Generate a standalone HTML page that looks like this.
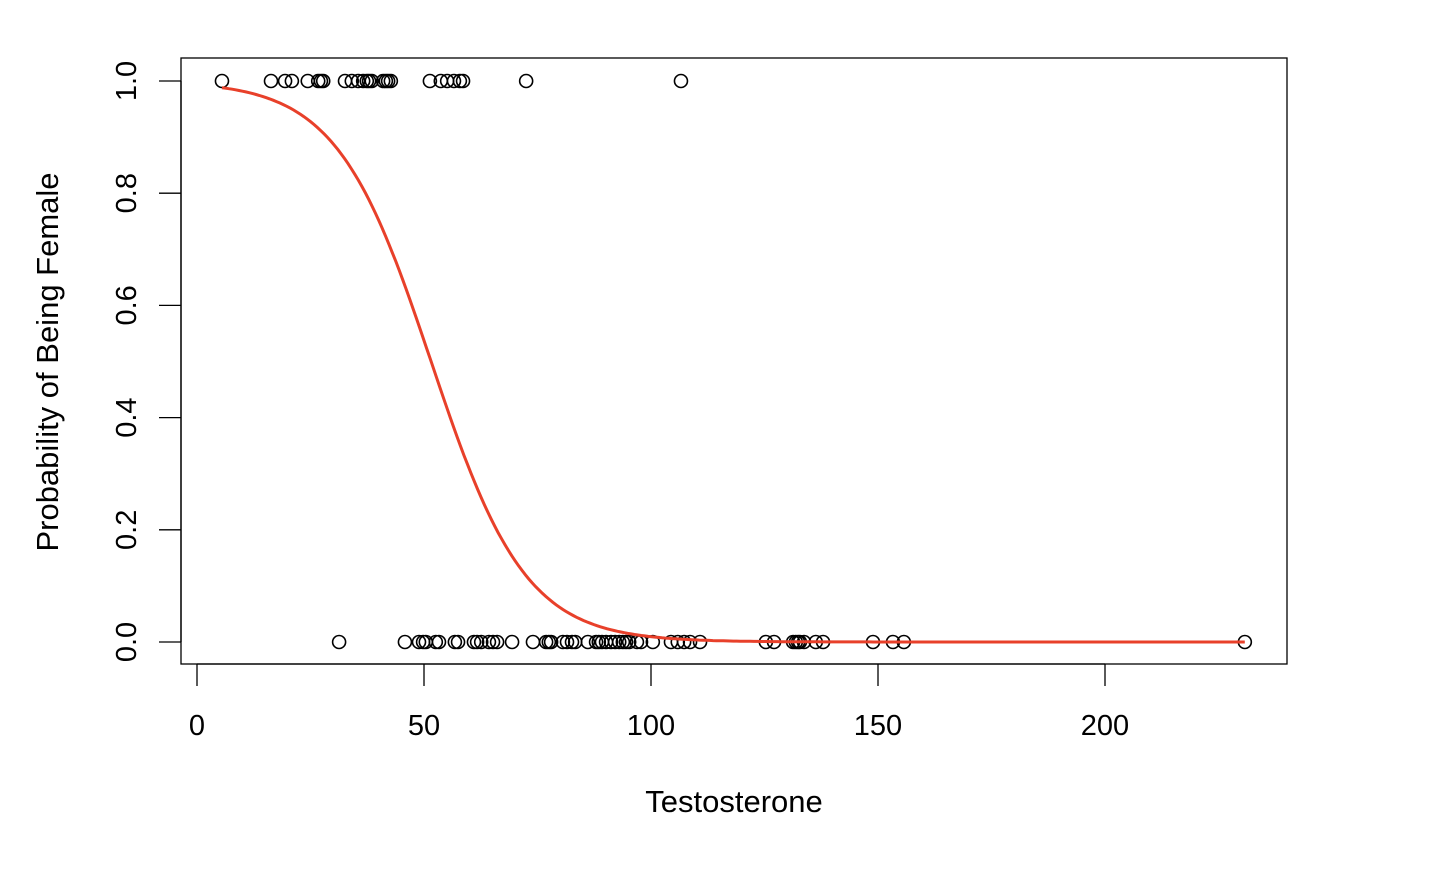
<!DOCTYPE html>
<html><head><meta charset="utf-8"><style>
body{margin:0;background:#fff}
text{font-family:"Liberation Sans",Arial,sans-serif;fill:#000}
</style></head><body>
<svg id="chart" width="1434" height="878" xmlns="http://www.w3.org/2000/svg">
<rect x="181" y="58" width="1106" height="606" fill="none" stroke="#000" stroke-width="1.3"/>
<g id="xaxis"></g>
<g id="yaxis"></g>
<g id="points"></g>
<path id="curve" fill="none" stroke="#e8402a" stroke-width="3"/>
<text x="734" y="812" font-size="31" text-anchor="middle">Testosterone</text>
<text transform="translate(58,362) rotate(-90)" font-size="31" text-anchor="middle">Probability of Being Female</text>
</svg>
<script>
const femaleX=[5.5,16.3,19.4,20.9,24.4,26.7,27.3,27.8,32.6,34.1,35.5,36.6,37.4,37.9,38.5,41.0,41.6,42.1,42.7,51.3,53.7,55.1,56.6,57.9,58.6,72.5,106.6];
const maleX=[31.3,45.8,48.9,49.8,50.4,52.6,53.3,56.8,57.5,61.0,61.7,62.6,64.3,65.2,66.1,69.4,74.0,76.9,77.5,78.0,80.6,81.5,82.6,83.3,86.1,87.9,88.5,89.2,90.1,91.2,92.1,93.0,93.8,94.5,95.2,96.9,97.8,100.4,104.4,105.9,107.3,108.6,110.8,125.3,127.1,131.3,131.9,132.4,132.8,133.7,136.3,137.9,148.9,153.3,155.7,230.8];
const coef=[4.95,-0.096];
const xTicks=[0,50,100,150,200];
const yTicks=[0,0.2,0.4,0.6,0.8,1.0];
const NS="http://www.w3.org/2000/svg";
const sx=v=>197+v*4.54, sy=v=>642-v*561;
function mk(t,a,p){const e=document.createElementNS(NS,t);for(const k in a)e.setAttribute(k,a[k]);p.appendChild(e);return e;}
const xa=document.getElementById('xaxis'), ya=document.getElementById('yaxis'), pts=document.getElementById('points');
mk('line',{x1:sx(0),x2:sx(200),y1:664,y2:664,stroke:'#000','stroke-width':1.3},xa);
xTicks.forEach(v=>{
 const l=mk('line',{x1:sx(v),x2:sx(v),y1:664,y2:686,stroke:'#000','stroke-width':1.3},xa);
 
 
 const t=mk('text',{x:sx(v),y:735,'font-size':29,'text-anchor':'middle'},xa);t.textContent=v;
 
 
});
mk('line',{x1:181,x2:181,y1:sy(0),y2:sy(1),stroke:'#000','stroke-width':1.3},ya);
yTicks.forEach(v=>{
 const l=mk('line',{x1:159,x2:181,y1:sy(v),y2:sy(v),stroke:'#000','stroke-width':1.3},ya);
 
 
 const t=mk('text',{transform:`translate(136,${sy(v)}) rotate(-90)`,'font-size':29,'text-anchor':'middle'},ya);t.textContent=v.toFixed(1);
 
 
});
[[femaleX,1],[maleX,0]].forEach(([arr,y])=>arr.forEach(v=>{
 const c=mk('circle',{cx:sx(v),cy:sy(y),r:6.5,fill:'none',stroke:'#000','stroke-width':1.6},pts);
 
 
}));
const lo=Math.min(...femaleX,...maleX), hi=Math.max(...femaleX,...maleX);
let d='';
for(let i=0;i<=300;i++){const x=lo+(hi-lo)*i/300;const p=1/(1+Math.exp(-(coef[0]+coef[1]*x)));d+=(i?'L':'M')+sx(x).toFixed(1)+','+sy(p).toFixed(1);}
document.getElementById('curve').setAttribute('d',d);
</script>
</body></html>
